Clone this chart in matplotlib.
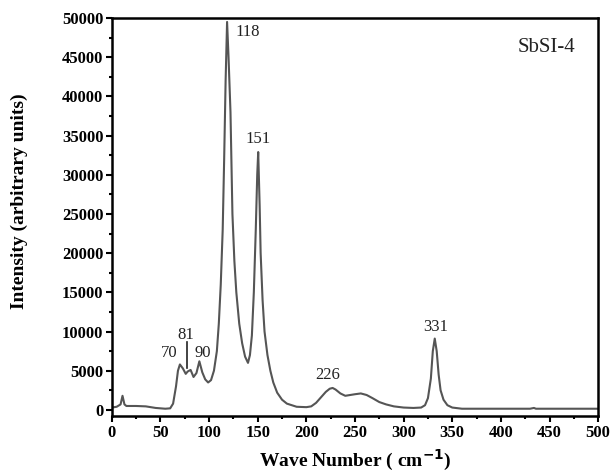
import matplotlib
matplotlib.use("Agg")
import matplotlib.pyplot as plt
from matplotlib.ticker import MultipleLocator

plt.rcParams["font.family"] = ["Liberation Serif", "DejaVu Serif"]

# Raman spectrum
wave = [0, 5, 9, 11, 13, 15, 25, 35, 45, 55, 60, 63, 66, 68, 70, 73, 76, 78,
        81, 84, 87, 90, 93, 96, 99, 102, 105, 108, 110, 112, 114, 115.5, 117,
        118.5, 120, 122, 124, 126, 128, 131, 134, 137, 140, 142, 144, 146,
        148, 149.5, 150.5, 152, 153, 155, 157, 160, 163, 166, 170, 175, 180,
        190, 200, 205, 210, 215, 220, 224, 227, 230, 235, 240, 245, 250, 256,
        262, 268, 275, 282, 290, 300, 310, 318, 322, 325, 328, 330, 332, 334,
        336, 338, 341, 345, 350, 360, 400, 430, 434, 436, 450, 500]
intensity = [300, 400, 700, 1800, 700, 500, 500, 450, 250, 150, 200, 800,
             3000, 5000, 5800, 5300, 4600, 4900, 5100, 4200, 4700, 6200, 4800,
             3900, 3500, 3800, 5000, 7500, 11000, 16000, 23000, 32000, 42000,
             49500, 45000, 38000, 25000, 19000, 15000, 11000, 8500, 6800,
             6000, 7000, 9500, 15000, 23000, 30000, 32900, 26000, 20000,
             14000, 10000, 7000, 5000, 3500, 2200, 1300, 800, 400, 350, 450,
             900, 1600, 2300, 2700, 2800, 2600, 2100, 1800, 1900, 2000, 2100,
             1900, 1500, 1000, 700, 450, 300, 250, 300, 600, 1500, 4000, 7500,
             9100, 7500, 4500, 2500, 1300, 600, 300, 150, 150, 150, 250, 150,
             150, 150]

peak_labels = ["70", "81", "90", "118", "151", "226", "331"]
label_x = [58.7, 76, 93.3, 140, 150, 222, 333]
label_y = [7300, 9600, 7300, 48200, 34600, 4500, 10600]

fig = plt.figure(figsize=(6.11, 4.74), dpi=100)
ax = fig.add_axes([0.183, 0.122, 0.796, 0.84])

ax.plot(wave, intensity, color="#555555", lw=1.5)

for t, x, y in zip(peak_labels, label_x, label_y):
    ax.text(x, y, t, ha="center", va="center", fontsize=12, color="#222222")
ax.plot([76.8, 76.8], [5400, 8700], color="#222222", lw=1.2)

ax.text(447, 46200, "SbSI-4", ha="center", va="center", fontsize=15,
        color="#222222")

ax.set_xlim(0, 500)
ax.set_ylim(-800, 50000)
ax.xaxis.set_major_locator(MultipleLocator(50))
ax.xaxis.set_minor_locator(MultipleLocator(25))
ax.yaxis.set_major_locator(MultipleLocator(5000))
ax.yaxis.set_minor_locator(MultipleLocator(2500))
ax.tick_params(which="both", direction="out", width=1.5, labelsize=12,
               pad=2)
ax.tick_params(which="major", length=4)
ax.tick_params(which="minor", length=2.5)
for lab in ax.get_xticklabels() + ax.get_yticklabels():
    lab.set_fontweight("bold")
for s in ax.spines.values():
    s.set_linewidth(1.8)

ax.set_xlabel("Wave Number ( cm$^{\\mathbf{-1}}$)", fontsize=14,
              fontweight="bold")
ax.set_ylabel("Intensity (arbitrary units)", fontsize=14, fontweight="bold")
ax.xaxis.set_label_coords(0.5, -0.08)
ax.yaxis.set_label_coords(-0.172, 0.54)

fig.savefig("out.png", dpi=100)
